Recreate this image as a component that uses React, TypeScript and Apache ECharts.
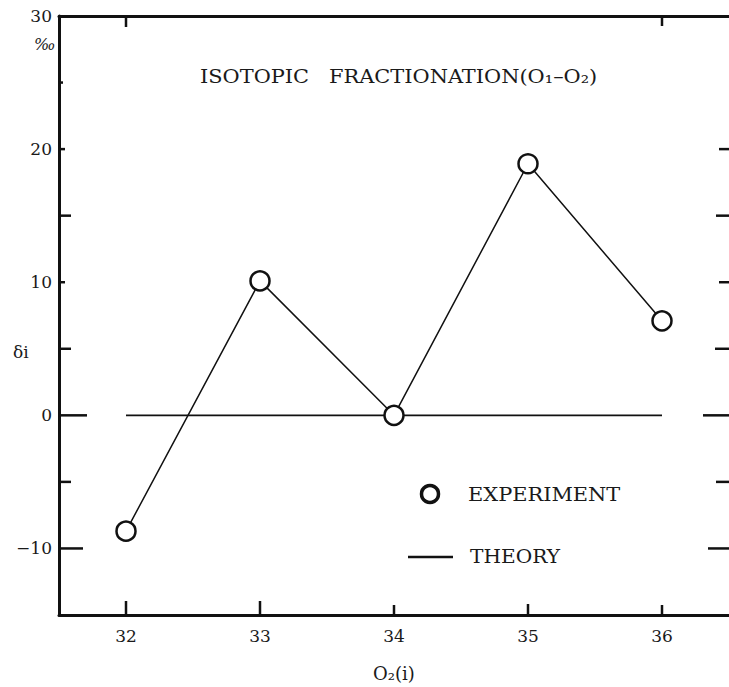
import React, { useEffect, useRef } from "react";
import * as echarts from "echarts";

const xValues = [32, 33, 34, 35, 36];
const experiment = [-8.7, 10.1, 0, 18.9, 7.1];
const theoryX = [32, 36];
const theoryY = [0, 0];
const yLabelValues = [-10, 0, 10, 20, 30];
const leftTickValues = [-10, -5, 0, 5, 10, 15, 20, 25];
const rightTickValues = [-10, -5, 0, 5, 10, 15, 20];
const bottomTickValues = [32, 33, 34, 35, 36];
const topTickValues = [32, 36];

// tick lengths in px (style, not data)
const leftTickLen = [24, 12, 28, 12, 6, 12, 6, 4];
const rightTickLen = [21, 13, 26, 14, 10, 13, 10];
const bottomTickLen = [14, 14, 10, 11, 10];
const topTickLen = [11, 10];

const X_MIN = 31.5;
const X_MAX = 36.5;
const Y_MIN = -15;
const Y_MAX = 30;

const FONT = "'DejaVu Serif', 'Liberation Serif', serif";

export default function App() {
  const ref = useRef<HTMLDivElement>(null);
  useEffect(() => {
    if (!ref.current) return;
    const chart = echarts.init(ref.current, undefined, { renderer: "svg" });
    const black = "#111";
    const TW = 2.5;
    const textStyle = (text: string, size: number, extra: any = {}) => ({
      text,
      fill: "#1a1a1a",
      fontSize: size,
      fontFamily: FONT,
      verticalAlign: "middle",
      ...extra,
    });
    // dx, dy: unit direction of the tick from the axis into the plot
    const tickSeries = (points: number[][], lens: number[], dx: number, dy: number) => ({
      type: "custom",
      silent: true,
      clip: false,
      z: 4,
      data: points,
      renderItem: (params: any, api: any) => {
        const p = api.coord([api.value(0), api.value(1)]);
        const len = lens[params.dataIndex];
        return {
          type: "line",
          shape: { x1: p[0], y1: p[1], x2: p[0] + dx * len, y2: p[1] + dy * len },
          style: { stroke: black, lineWidth: TW },
        };
      },
    });
    chart.setOption({
      animation: false,
      backgroundColor: "#fff",
      grid: { left: 59, top: 16, width: 675, height: 603 },
      xAxis: [
        {
          type: "value",
          min: X_MIN,
          max: X_MAX,
          position: "bottom",
          splitLine: { show: false },
          axisLine: { show: true, onZero: false, lineStyle: { color: black, width: 3 } },
          axisTick: { show: false },
          axisLabel: {
            customValues: xValues,
            margin: 12,
            color: "#1a1a1a",
            fontSize: 17,
            fontFamily: FONT,
          },
          name: "O\u2082(i)",
          nameLocation: "middle",
          nameGap: 49,
          nameTextStyle: { color: "#1a1a1a", fontSize: 18, fontFamily: FONT },
        },
        {
          type: "value",
          min: X_MIN,
          max: X_MAX,
          position: "top",
          splitLine: { show: false },
          axisLine: { show: true, onZero: false, lineStyle: { color: black, width: 3 } },
          axisTick: { show: false },
          axisLabel: { show: false },
        },
      ],
      yAxis: [
        {
          type: "value",
          min: Y_MIN,
          max: Y_MAX,
          position: "left",
          splitLine: { show: false },
          axisLine: { show: true, onZero: false, lineStyle: { color: black, width: 3 } },
          axisTick: { show: false },
          axisLabel: {
            show: true,
            customValues: yLabelValues,
            margin: 7,
            color: "#1a1a1a",
            fontSize: 17,
            fontFamily: FONT,
            formatter: (v: number) => (v < 0 ? "\u2212" + Math.abs(v) : String(v)),
          },
        },
      ],
      tooltip: { show: false },
      series: [
        tickSeries(leftTickValues.map((v) => [X_MIN, v]), leftTickLen, 1, 0),
        tickSeries(rightTickValues.map((v) => [X_MAX, v]), rightTickLen, -1, 0),
        tickSeries(bottomTickValues.map((v) => [v, Y_MIN]), bottomTickLen, 0, -1),
        tickSeries(topTickValues.map((v) => [v, Y_MAX]), topTickLen, 0, 1),
        {
          name: "THEORY",
          type: "line",
          data: theoryX.map((x, i) => [x, theoryY[i]]),
          showSymbol: false,
          symbol: "none",
          silent: true,
          lineStyle: { color: black, width: 1.6 },
          z: 2,
        },
        {
          name: "EXPERIMENT",
          type: "line",
          data: xValues.map((x, i) => [x, experiment[i]]),
          symbol: "circle",
          symbolSize: 19,
          showAllSymbol: true,
          silent: true,
          lineStyle: { color: black, width: 1.5 },
          itemStyle: { color: "#fff", borderColor: black, borderWidth: 2.5 },
          z: 3,
        },
      ],
      graphic: [
        {
          type: "text",
          x: 200,
          y: 76,
          scaleX: 1.1,
          style: textStyle("ISOTOPIC   FRACTIONATION(O\u2081\u2013O\u2082)", 19),
        },
        {
          type: "text",
          x: 34,
          y: 44,
          style: textStyle("\u2030", 16, { fontStyle: "italic" }),
        },
        {
          type: "text",
          x: 13,
          y: 352,
          style: textStyle("\u03b4i", 17),
        },
        {
          type: "circle",
          shape: { cx: 430, cy: 494, r: 8.5 },
          style: { fill: "#fff", stroke: black, lineWidth: 3.5 },
        },
        {
          type: "text",
          x: 468,
          y: 494,
          scaleX: 1.1,
          style: textStyle("EXPERIMENT", 19),
        },
        {
          type: "line",
          shape: { x1: 408, y1: 557, x2: 453, y2: 557 },
          style: { stroke: black, lineWidth: 2.5 },
        },
        {
          type: "text",
          x: 470,
          y: 557,
          scaleX: 1.06,
          style: textStyle("THEORY", 19),
        },
      ],
    });
    return () => chart.dispose();
  }, []);
  return (
    <div
      ref={ref}
      style={{ position: "absolute", left: 0, top: 0, width: 729, height: 687 }}
    />
  );
}
